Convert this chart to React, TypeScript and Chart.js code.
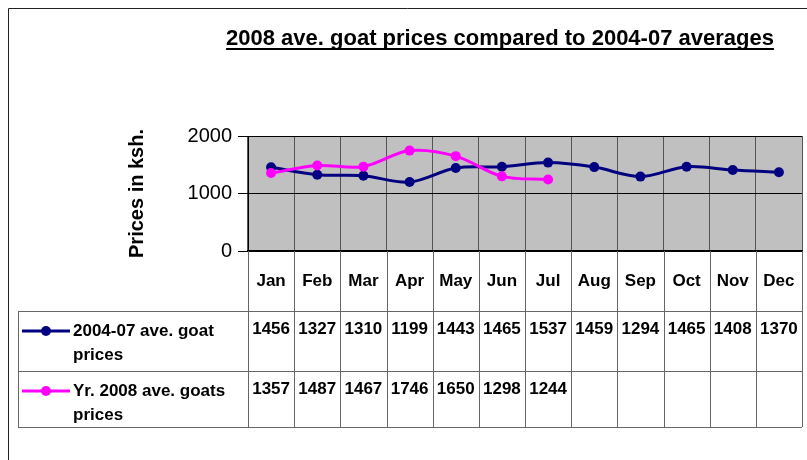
import React, { useEffect, useRef } from "react";
import { Chart, registerables } from "chart.js";

Chart.register(...registerables);

const MONTHS = ["Jan", "Feb", "Mar", "Apr", "May", "Jun", "Jul", "Aug", "Sep", "Oct", "Nov", "Dec"];
const AVG_2004_07 = [1456, 1327, 1310, 1199, 1443, 1465, 1537, 1459, 1294, 1465, 1408, 1370];
const YR_2008: (number | null)[] = [1357, 1487, 1467, 1746, 1650, 1298, 1244, null, null, null, null, null];
const SERIES_NAMES = ["2004-07 ave. goat prices", "Yr. 2008 ave. goats prices"];
const SERIES_LEGEND_LINES = [
  ["2004-07 ave. goat", "prices"],
  ["Yr. 2008 ave. goats", "prices"],
];
const SERIES_COLORS = ["#000080", "#FF00FF"];
const TITLE = "2008 ave. goat prices compared to 2004-07 averages";
const Y_TITLE = "Prices in ksh.";
const Y_MIN = 0;
const Y_MAX = 2000;
const Y_STEP = 1000;

const FONT = "'Liberation Sans', Arial, sans-serif";

const decorPlugin = {
  id: "decor",
  beforeDraw(chart: any) {
    const { ctx, chartArea } = chart;
    ctx.save();
    ctx.fillStyle = "#ffffff";
    ctx.fillRect(0, 0, chart.width, chart.height);
    ctx.fillStyle = "#C0C0C0";
    ctx.fillRect(chartArea.left, chartArea.top, chartArea.right - chartArea.left, chartArea.bottom - chartArea.top);
    ctx.restore();
  },
  afterDraw(chart: any) {
    const { ctx, chartArea } = chart;
    const xs = chart.scales.x;
    const n = MONTHS.length;
    const left = xs.left;
    const right = xs.right;
    const colW = (right - left) / n;
    const top0 = chartArea.bottom;
    const r1 = top0 + 60;
    const r2 = r1 + 60;
    const r3 = r2 + 56;
    const legLeft = 18;

    ctx.save();
    // outer frame
    ctx.strokeStyle = "#222";
    ctx.lineWidth = 1;
    ctx.beginPath();
    ctx.moveTo(8.5, chart.height);
    ctx.lineTo(8.5, 8.5);
    ctx.lineTo(chart.width, 8.5);
    ctx.stroke();

    // title
    ctx.fillStyle = "#000";
    ctx.font = `bold 22px ${FONT}`;
    ctx.textAlign = "center";
    ctx.textBaseline = "alphabetic";
    const tx = 500;
    ctx.fillText(TITLE, tx, 45);
    const tw = ctx.measureText(TITLE).width;
    ctx.fillRect(tx - tw / 2, 48, tw, 2);

    // table grid
    ctx.strokeStyle = "#666";
    ctx.lineWidth = 1;
    ctx.beginPath();
    for (let i = 0; i <= n; i++) {
      const x = Math.round(left + i * colW) + 0.5;
      ctx.moveTo(x, top0);
      ctx.lineTo(x, r3);
    }
    for (const y of [r1, r2, r3]) {
      ctx.moveTo(legLeft, Math.round(y) + 0.5);
      ctx.lineTo(right, Math.round(y) + 0.5);
    }
    ctx.moveTo(legLeft + 0.5, r1);
    ctx.lineTo(legLeft + 0.5, r3);
    ctx.stroke();

    // month labels
    ctx.fillStyle = "#000";
    ctx.font = `bold 17px ${FONT}`;
    ctx.textAlign = "center";
    ctx.textBaseline = "middle";
    MONTHS.forEach((m, i) => {
      ctx.fillText(m, xs.getPixelForValue(i), (top0 + r1) / 2);
    });

    // values
    ctx.textBaseline = "alphabetic";
    const rows = [AVG_2004_07, YR_2008];
    const rowTops = [r1, r2];
    rows.forEach((vals, ri) => {
      vals.forEach((v, i) => {
        if (v === null || v === undefined) return;
        ctx.fillText(String(v), xs.getPixelForValue(i), rowTops[ri] + 23);
      });
    });

    // legend keys
    rowTops.forEach((rt, ri) => {
      const y = rt + 20;
      ctx.strokeStyle = SERIES_COLORS[ri];
      ctx.lineWidth = 3;
      ctx.beginPath();
      ctx.moveTo(22, y);
      ctx.lineTo(70, y);
      ctx.stroke();
      ctx.fillStyle = SERIES_COLORS[ri];
      ctx.beginPath();
      ctx.arc(46, y, 5, 0, Math.PI * 2);
      ctx.fill();
      ctx.fillStyle = "#000";
      ctx.textAlign = "left";
      SERIES_LEGEND_LINES[ri].forEach((line, li) => {
        ctx.fillText(line, 73, rt + 25 + li * 24);
      });
    });
    ctx.restore();
  },
};

export default function App() {
  const canvasRef = useRef<HTMLCanvasElement | null>(null);

  useEffect(() => {
    const canvas = canvasRef.current;
    if (!canvas) return;
    const chart = new Chart(canvas, {
      type: "line",
      data: {
        labels: MONTHS,
        datasets: [
          {
            label: SERIES_NAMES[0],
            data: AVG_2004_07,
            borderColor: SERIES_COLORS[0],
            backgroundColor: SERIES_COLORS[0],
            borderWidth: 3,
            pointRadius: 5,
            pointBorderWidth: 0,
            tension: 0.33,
            order: 1,
          },
          {
            label: SERIES_NAMES[1],
            data: YR_2008,
            borderColor: SERIES_COLORS[1],
            backgroundColor: SERIES_COLORS[1],
            borderWidth: 3,
            pointRadius: 5,
            pointBorderWidth: 0,
            tension: 0.33,
            spanGaps: false,
            order: 0,
          },
        ],
      },
      options: {
        responsive: false,
        animation: false,
        layout: { padding: { left: 121, top: 136, right: 5, bottom: 0 } },
        plugins: {
          legend: { display: false },
          title: { display: false },
          tooltip: { enabled: false },
        },
        scales: {
          x: {
            offset: true,
            grid: { offset: true, color: "#555", lineWidth: 1, drawTicks: false },
            border: { display: true, color: "#000", width: 2 },
            ticks: { display: false },
            afterFit: (scale: any) => {
              scale.height = 209;
            },
          },
          y: {
            min: Y_MIN,
            max: Y_MAX,
            ticks: {
              stepSize: Y_STEP,
              color: "#000",
              padding: 6,
              font: { family: FONT, size: 20 },
              callback: (v: any) => String(v),
            },
            grid: { color: "#000", lineWidth: 1, tickLength: 10, tickColor: "#000" },
            border: { display: true, color: "#000", width: 1 },
            title: {
              display: true,
              text: Y_TITLE,
              color: "#000",
              font: { family: FONT, size: 20, weight: "bold" },
            },
            afterFit: (scale: any) => {
              scale.width = 127;
            },
          },
        },
      },
      plugins: [decorPlugin],
    });
    return () => chart.destroy();
  }, []);

  return (
    <div style={{ position: "absolute", left: 0, top: 0, width: 807, height: 460 }}>
      <canvas ref={canvasRef} width={807} height={460} style={{ display: "block" }} />
    </div>
  );
}
